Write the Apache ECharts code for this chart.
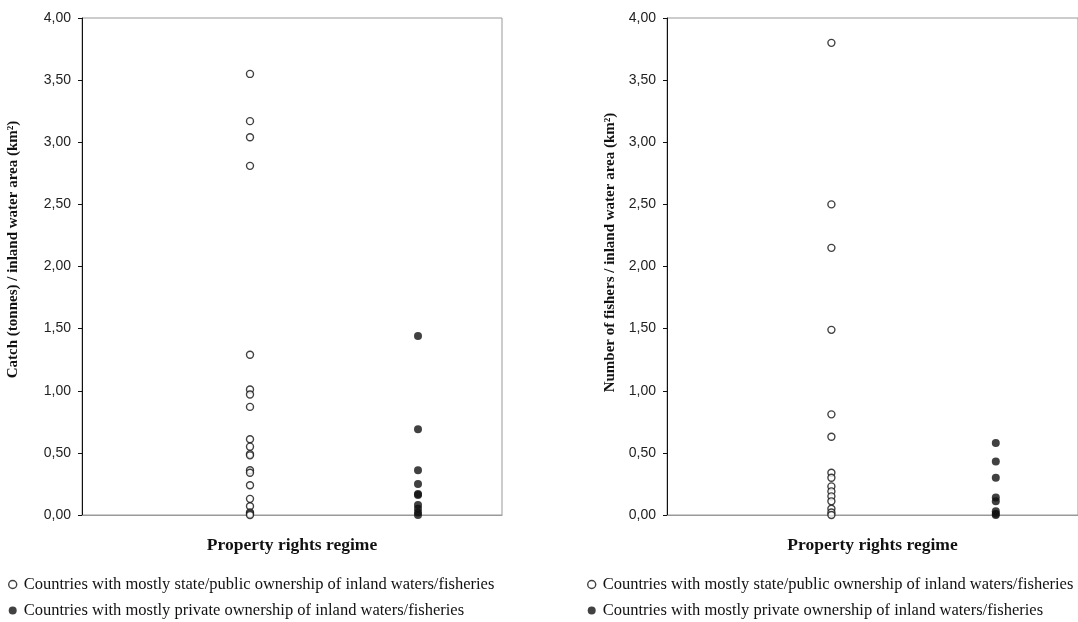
<!DOCTYPE html>
<html>
<head>
<meta charset="utf-8">
<script src="https://cdn.jsdelivr.net/npm/echarts@6/dist/echarts.min.js"></script>
<style>
  html, body { margin: 0; padding: 0; background: #fff; }
  #chart { width: 1078px; height: 622px; }
</style>
</head>
<body>
<div id="chart"></div>
<script>
// x position of each property rights regime (1 = state/public, 2 = private)
const regimeX = [1, 2];
const stateName = "Countries with mostly state/public ownership of inland waters/fisheries";
const privateName = "Countries with mostly private ownership of inland waters/fisheries";

// Catch (tonnes) / inland water area (km²)
const catchState = [3.55, 3.17, 3.04, 2.81, 1.29, 1.01, 0.97, 0.87, 0.61, 0.55,
  0.49, 0.48, 0.36, 0.34, 0.24, 0.13, 0.07, 0.02, 0.01, 0.00];
const catchPrivate = [1.44, 0.69, 0.36, 0.25, 0.17, 0.16, 0.08, 0.05, 0.02, 0.00];

// Number of fishers / inland water area (km²)
const fishersState = [3.80, 2.50, 2.15, 1.49, 0.81, 0.63, 0.34, 0.30, 0.23, 0.19,
  0.15, 0.11, 0.05, 0.02, 0.00];
const fishersPrivate = [0.58, 0.43, 0.30, 0.14, 0.11, 0.03, 0.01, 0.00];

const yTicks = [0, 0.5, 1, 1.5, 2, 2.5, 3, 3.5, 4];

const chart = echarts.init(document.getElementById("chart"));

const openStyle = { color: "#fff", borderColor: "#111", borderWidth: 1.4 };
const filledStyle = { color: "#111", borderWidth: 0 };

const toPoints = (x, values) => values.map((v) => [x, v]);

const makeX = (idx) => ({
  type: "value",
  gridIndex: idx,
  min: 0,
  max: 2.5,
  name: "Property rights regime",
  nameLocation: "middle",
  nameGap: 21,
  nameTextStyle: { fontFamily: "Liberation Serif", fontWeight: "bold", fontSize: 17.5, color: "#111" },
  axisLine: { show: true, onZero: false, lineStyle: { color: "#999", width: 1 } },
  axisTick: { show: false },
  axisLabel: { show: false },
  splitLine: { show: false },
});

const makeY = (idx, title, gap, shift) => ({
  type: "value",
  gridIndex: idx,
  min: yTicks[0],
  max: yTicks[yTicks.length - 1],
  interval: 0.5,
  name: title,
  nameLocation: "middle",
  nameGap: gap,
  nameTextStyle: {
    fontFamily: "Liberation Serif", fontWeight: "bold", fontSize: 15, color: "#111",
    padding: [0, 0, 0, shift],
  },
  axisLine: { show: true, lineStyle: { color: "#111", width: 1 } },
  axisTick: { show: true, length: 4, lineStyle: { color: "#111" } },
  axisLabel: {
    fontFamily: "Liberation Sans",
    fontSize: 14,
    color: "#222",
    margin: 11,
    formatter: (v) => v.toFixed(2).replace(".", ","),
  },
  splitLine: { show: false },
});

const makeLegend = (left) => ({
  left: left,
  top: 576,
  padding: 0,
  orient: "vertical",
  itemGap: 9,
  itemWidth: 8,
  itemHeight: 8,
  icon: "circle",
  selectedMode: false,
  textStyle: { fontFamily: "Liberation Serif", fontSize: 16.5, color: "#111", padding: [0, 0, 0, 2] },
  data: [
    { name: stateName, itemStyle: openStyle },
    { name: privateName, itemStyle: filledStyle },
  ],
});

const option = {
  animation: false,
  grid: [
    { left: 82, top: 18, width: 420, height: 497, show: true, borderColor: "#999", borderWidth: 1 },
    { left: 667, top: 18, width: 420, height: 497, show: true, borderColor: "#999", borderWidth: 1 },
  ],
  xAxis: [makeX(0), makeX(1)],
  yAxis: [
    makeY(0, "Catch (tonnes) / inland water area (km²)", 61, 34),
    makeY(1, "Number of fishers / inland water area (km²)", 49, 28),
  ],
  legend: [makeLegend(8), makeLegend(587)],
  series: [
    { name: stateName, type: "scatter", xAxisIndex: 0, yAxisIndex: 0, symbolSize: 7,
      itemStyle: openStyle, data: toPoints(regimeX[0], catchState) },
    { name: privateName, type: "scatter", xAxisIndex: 0, yAxisIndex: 0, symbolSize: 8,
      itemStyle: filledStyle, data: toPoints(regimeX[1], catchPrivate) },
    { name: stateName, type: "scatter", xAxisIndex: 1, yAxisIndex: 1, symbolSize: 7,
      itemStyle: openStyle, data: toPoints(regimeX[0], fishersState) },
    { name: privateName, type: "scatter", xAxisIndex: 1, yAxisIndex: 1, symbolSize: 8,
      itemStyle: filledStyle, data: toPoints(regimeX[1], fishersPrivate) },
  ],
};

chart.setOption(option);
window.addEventListener("resize", () => chart.resize());
</script>
</body>
</html>
